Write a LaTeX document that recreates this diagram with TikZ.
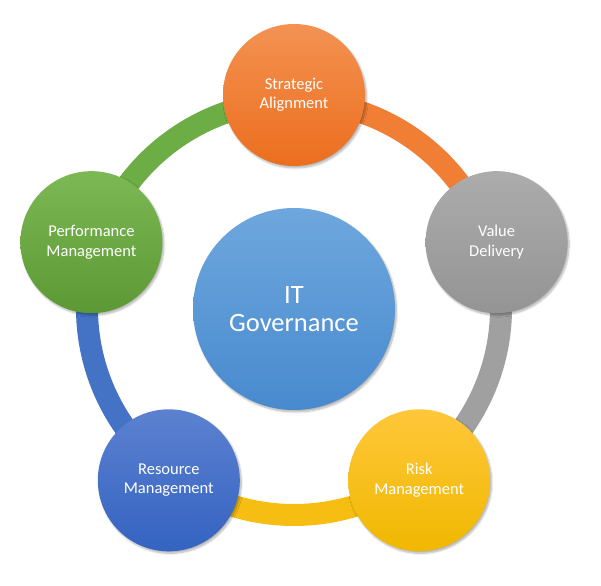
\documentclass[tikz,border=0pt]{standalone}
\usepackage{fontspec}
\setmainfont{Carlito}
\usepackage{tikz}
\usetikzlibrary{calc, shadows.blur, backgrounds}
\definecolor{stratlight}{RGB}{244, 146, 82}
\definecolor{stratdark}{RGB}{236, 110, 30}
\definecolor{valuelight}{RGB}{172, 172, 172}
\definecolor{valuedark}{RGB}{148, 148, 148}
\definecolor{risklight}{RGB}{255, 199, 58}
\definecolor{riskdark}{RGB}{240, 184, 0}
\definecolor{resourcelight}{RGB}{92, 129, 208}
\definecolor{resourcedark}{RGB}{52, 99, 193}
\definecolor{perflight}{RGB}{124, 185, 84}
\definecolor{perfdark}{RGB}{92, 153, 52}
\definecolor{hublight}{RGB}{110, 167, 221}
\definecolor{hubdark}{RGB}{72, 138, 207}
\definecolor{stratring}{RGB}{240, 126, 52}
\definecolor{valuering}{RGB}{160, 160, 160}
\definecolor{riskring}{RGB}{246, 190, 18}
\definecolor{resourcering}{RGB}{68, 114, 196}
\definecolor{perfring}{RGB}{108, 174, 69}

\tikzset{
    areacircle/.style={
        circle,
        minimum size=142pt,
        inner sep=0pt,
        align=center,
        text=white,
        font=\fontsize{16.5}{19.5}\selectfont,
        blur shadow={shadow xshift=1.5pt, shadow yshift=-2pt, shadow blur steps=6, shadow opacity=30}
    },
    ringarc/.style={line width=22pt}
}

\begin{document}
\begin{tikzpicture}[x=1pt, y=1pt]
    \useasboundingbox (0,0) rectangle (601,585);
    \coordinate (hub) at (294,277);

    % governance areas
    \node[areacircle, top color=stratlight, bottom color=stratdark] (strat) at ($(hub)+(90:213)$) {Strategic\\Alignment};
    \node[areacircle, top color=valuelight, bottom color=valuedark] (value) at ($(hub)+(18:213)$) {Value\\Delivery};
    \node[areacircle, top color=risklight, bottom color=riskdark] (risk) at ($(hub)+(-54:213)$) {Risk\\Management};
    \node[areacircle, top color=resourcelight, bottom color=resourcedark] (resource) at ($(hub)+(-126:213)$) {Resource\\Management};
    \node[areacircle, top color=perflight, bottom color=perfdark] (perf) at ($(hub)+(162:213)$) {Performance\\Management};

    % centre
    \node[
        areacircle,
        minimum size=202pt,
        top color=hublight,
        bottom color=hubdark,
        font=\fontsize{26.5}{28}\selectfont
    ] (governance) at ($(hub)+(0,-1)$) {IT\\Governance};

    % ring between the areas
    \begin{scope}[on background layer]
        \draw[ringarc, perfring] (hub) ++(162:207) arc[start angle=162, end angle=90, radius=207];
        \draw[ringarc, stratring] (hub) ++(90:207) arc[start angle=90, end angle=18, radius=207];
        \draw[ringarc, valuering] (hub) ++(18:207) arc[start angle=18, end angle=-54, radius=207];
        \draw[ringarc, riskring] (hub) ++(-54:207) arc[start angle=-54, end angle=-126, radius=207];
        \draw[ringarc, resourcering] (hub) ++(-126:207) arc[start angle=-126, end angle=-198, radius=207];
    \end{scope}
\end{tikzpicture}
\end{document}
